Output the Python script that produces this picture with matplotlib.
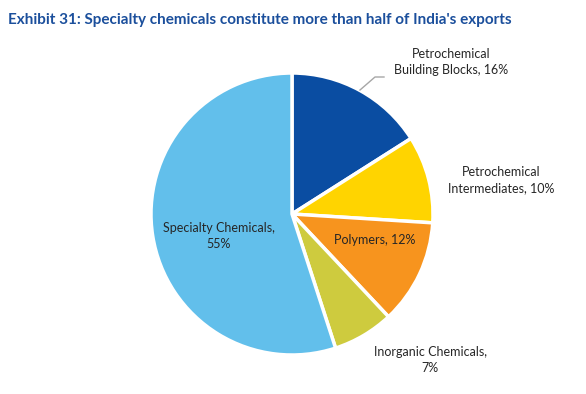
import matplotlib.pyplot as plt

# export share by segment (%), clockwise from 12 o'clock
segments = ["Petrochemical\nBuilding Blocks", "Petrochemical\nIntermediates", "Polymers",
            "Inorganic Chemicals,\n", "Specialty Chemicals,\n"]
shares = [16, 10, 12, 7, 55]
colors = ["#0A4DA2", "#FFD400", "#F7941E", "#CECB3E", "#62BFEB"]

plt.rcParams["font.family"] = ["Lato", "DejaVu Sans"]

fig = plt.figure(figsize=(5.86, 3.94), dpi=100)
ax = fig.add_axes([0, 0, 1, 1])

cx, cy, r = 292, 394 - 214, 141
ax.pie(shares, colors=colors, startangle=90, counterclock=False,
       center=(cx, cy), radius=r, frame=True,
       wedgeprops=dict(edgecolor="white", linewidth=2.5))
ax.set_xlim(0, 586)
ax.set_ylim(0, 394)
ax.set_aspect("equal")
ax.axis("off")

txt = dict(fontsize=9, color="#262626", ha="center", va="center", linespacing=1.4)
label_pos = [(451, 394 - 62), (501, 394 - 180), (375, 394 - 240), (430, 394 - 360), (219, 394 - 236)]
for name, val, (x, y) in zip(segments, shares, label_pos):
    if name.endswith("\n"):
        s = f"{name}{val}%"
    else:
        s = f"{name}, {val}%"
    ax.text(x, y, s, **txt)

# leader line for the first slice
ax.plot([360, 375, 384], [394 - 90, 394 - 77, 394 - 77], color="#A6A6A6", lw=1)

fig.text(8 / 586, 1 - 20 / 394, "Exhibit 31: Specialty chemicals constitute more than half of India's exports",
         fontsize=11, fontweight="bold", color="#1B4F9C", ha="left", va="center")

fig.savefig("out.png", dpi=100)
